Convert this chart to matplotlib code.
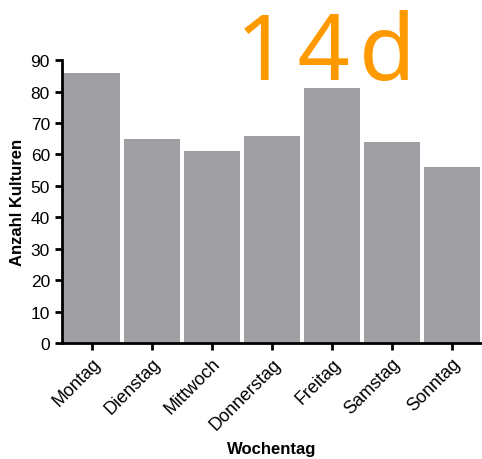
import matplotlib
matplotlib.use("Agg")
import matplotlib.pyplot as plt

days = ["Montag", "Dienstag", "Mittwoch", "Donnerstag", "Freitag", "Samstag", "Sonntag"]
counts = [86, 65, 61, 66, 81, 64, 56]
y_ticks = [0, 10, 20, 30, 40, 50, 60, 70, 80, 90]

plt.rcParams["font.family"] = ["Liberation Sans", "DejaVu Sans"]

fig = plt.figure(figsize=(4.82, 4.60), dpi=100)
ax = fig.add_axes([0.128, 0.252, 0.872, 0.615])

x = range(len(days))
ax.bar(x, counts, width=0.94, color="#a09fa4", edgecolor="none")

ax.set_xlim(-0.5, len(days) - 0.5)
ax.set_ylim(0, 90)
ax.set_yticks(y_ticks)
ax.set_xticks(list(x))
ax.set_xticklabels(days, rotation=45, ha="right", rotation_mode="anchor")

for side in ("top", "right"):
    ax.spines[side].set_visible(False)
for side in ("left", "bottom"):
    ax.spines[side].set_linewidth(2)
ax.tick_params(axis="both", width=2, length=5, direction="out")
ax.tick_params(axis="y", labelsize=12.5)
ax.tick_params(axis="x", labelsize=13)

ax.set_ylabel("Anzahl Kulturen", fontsize=12, fontweight="bold", labelpad=4)
ax.set_xlabel("Wochentag", fontsize=12, fontweight="bold")
ax.xaxis.set_label_coords(0.5, -0.345)

# wide-tracked tag label above the plot
fig.text(0.675, 0.826, "1\u200a4\u200ad", color="#ff9900", fontsize=66, ha="center",
         va="baseline", family=["Noto Sans", "Liberation Sans"], fontweight="light")

fig.savefig("out.png", dpi=100)
